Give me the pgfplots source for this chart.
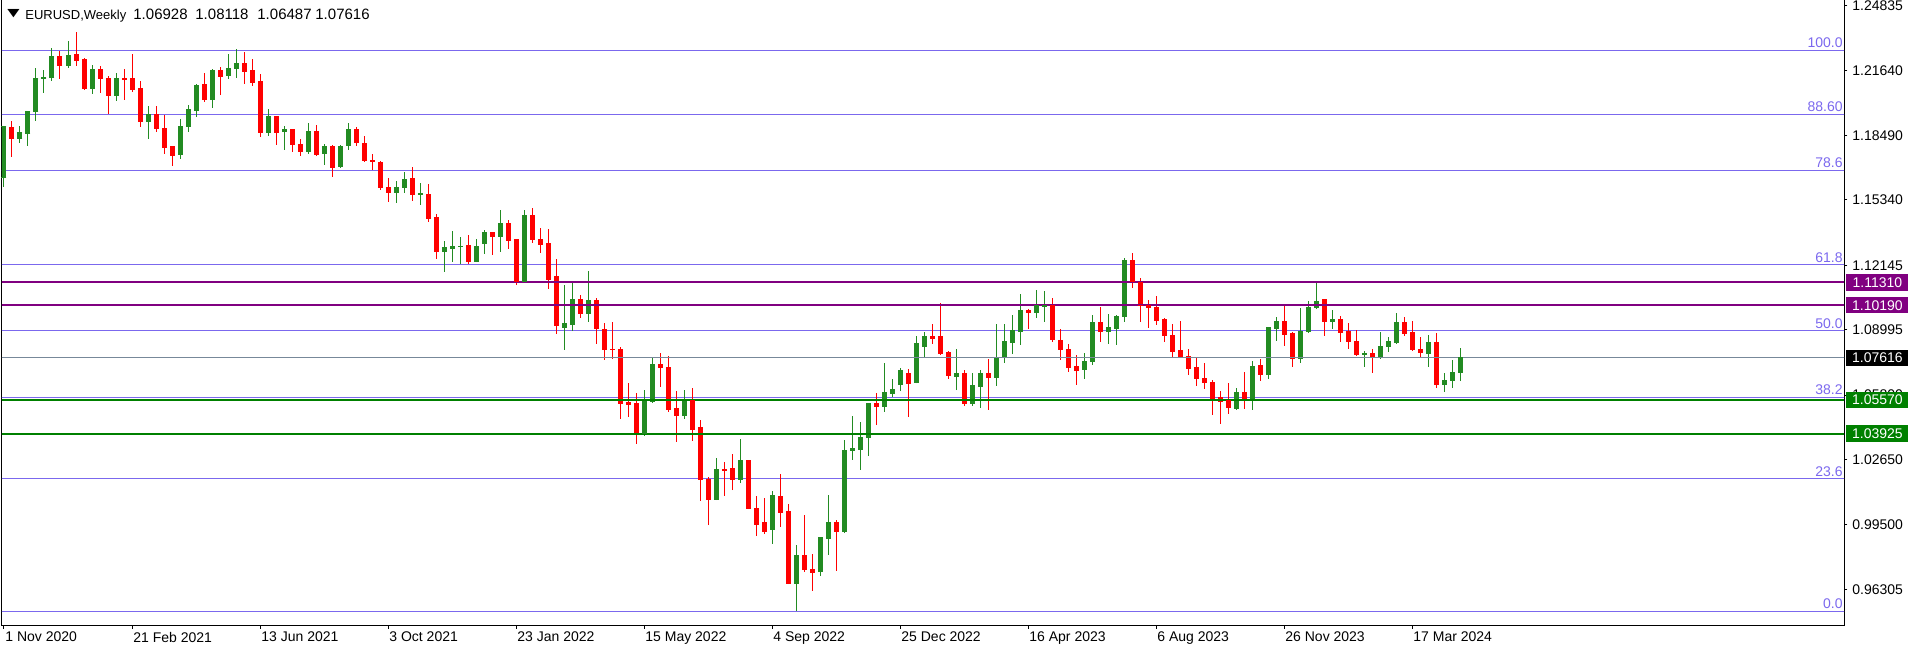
\documentclass[border=0pt]{standalone}
\usepackage{pgfplots}
\usepackage{pgfplotstable}
\pgfplotsset{compat=1.18}
\usepackage{fontspec}
\setmainfont{Liberation Sans}
\newfontfamily\dejavu{DejaVu Sans}
\definecolor{bull}{RGB}{34,139,34}
\definecolor{bear}{RGB}{255,0,0}
\definecolor{fib}{RGB}{123,104,238}
\definecolor{lvlpurple}{RGB}{128,0,128}
\definecolor{lvlgreen}{RGB}{0,128,0}
\definecolor{pricegray}{RGB}{119,136,153}

\pgfplotstableread{
i o h l c
0 1.1642 1.1894 1.1598 1.1891
1 1.1889 1.1919 1.1744 1.1832
2 1.1832 1.1894 1.1813 1.1860
3 1.1857 1.1967 1.1798 1.1967
4 1.1964 1.2177 1.1920 1.2128
5 1.2124 1.2168 1.2057 1.2133
6 1.2130 1.2275 1.2115 1.2231
7 1.2231 1.2260 1.2124 1.2189
8 1.2189 1.2309 1.2179 1.2236
9 1.2241 1.2353 1.2189 1.2213
10 1.2221 1.2226 1.2070 1.2076
11 1.2076 1.2190 1.2052 1.2168
12 1.2168 1.2187 1.2057 1.2125
13 1.2128 1.2138 1.1953 1.2042
14 1.2042 1.2153 1.2018 1.2124
15 1.2124 1.2172 1.2023 1.2120
16 1.2124 1.2246 1.2062 1.2072
17 1.2075 1.2114 1.1891 1.1915
18 1.1915 1.1992 1.1832 1.1948
19 1.1948 1.1992 1.1867 1.1881
20 1.1884 1.1948 1.1759 1.1788
21 1.1792 1.1797 1.1701 1.1749
22 1.1754 1.1928 1.1735 1.1894
23 1.1894 1.1997 1.1867 1.1977
24 1.1972 1.2101 1.1940 1.2094
25 1.2099 1.2154 1.2013 1.2021
26 1.2021 1.2172 1.1984 1.2167
27 1.2167 1.2184 1.2045 1.2135
28 1.2140 1.2246 1.2125 1.2177
29 1.2174 1.2270 1.2130 1.2197
30 1.2197 1.2255 1.2101 1.2159
31 1.2163 1.2221 1.2091 1.2106
32 1.2109 1.2148 1.1842 1.1862
33 1.1862 1.1977 1.1847 1.1938
34 1.1938 1.1941 1.1803 1.1862
35 1.1866 1.1896 1.1779 1.1876
36 1.1875 1.1879 1.1769 1.1803
37 1.1806 1.1831 1.1749 1.1769
38 1.1769 1.1909 1.1759 1.1865
39 1.1865 1.1899 1.1749 1.1753
40 1.1759 1.1806 1.1705 1.1796
41 1.1796 1.1800 1.1646 1.1691
42 1.1696 1.1801 1.1691 1.1792
43 1.1798 1.1909 1.1779 1.1879
44 1.1879 1.1888 1.1798 1.1813
45 1.1811 1.1845 1.1720 1.1725
46 1.1728 1.1757 1.1679 1.1720
47 1.1718 1.1723 1.1583 1.1593
48 1.1596 1.1640 1.1525 1.1569
49 1.1569 1.1626 1.1520 1.1596
50 1.1596 1.1670 1.1569 1.1635
51 1.1640 1.1694 1.1530 1.1559
52 1.1559 1.1616 1.1510 1.1564
53 1.1562 1.1611 1.1427 1.1442
54 1.1445 1.1465 1.1246 1.1281
55 1.1281 1.1333 1.1183 1.1299
56 1.1295 1.1382 1.1232 1.1308
57 1.1305 1.1352 1.1222 1.1308
58 1.1313 1.1362 1.1222 1.1232
59 1.1232 1.1342 1.1229 1.1308
60 1.1318 1.1386 1.1271 1.1372
61 1.1372 1.1377 1.1266 1.1354
62 1.1354 1.1484 1.1281 1.1416
63 1.1416 1.1435 1.1295 1.1334
64 1.1338 1.1342 1.1120 1.1133
65 1.1137 1.1484 1.1134 1.1455
66 1.1455 1.1494 1.1325 1.1339
67 1.1342 1.1396 1.1276 1.1315
68 1.1318 1.1391 1.1100 1.1144
69 1.1157 1.1245 1.0880 1.0919
70 1.0910 1.1120 1.0802 1.0929
71 1.0924 1.1129 1.0893 1.1045
72 1.1045 1.1069 1.0958 1.0978
73 1.0978 1.1186 1.0939 1.1040
74 1.1040 1.1054 1.0831 1.0905
75 1.0903 1.0932 1.0753 1.0802
76 1.0805 1.0937 1.0758 1.0802
77 1.0805 1.0815 1.0465 1.0539
78 1.0542 1.0639 1.0475 1.0534
79 1.0537 1.0591 1.0343 1.0397
80 1.0392 1.0607 1.0382 1.0547
81 1.0548 1.0762 1.0544 1.0732
82 1.0732 1.0786 1.0622 1.0714
83 1.0713 1.0771 1.0500 1.0509
84 1.0513 1.0600 1.0353 1.0480
85 1.0480 1.0605 1.0465 1.0547
86 1.0554 1.0615 1.0358 1.0411
87 1.0420 1.0459 1.0065 1.0169
88 1.0166 1.0182 0.9946 1.0073
89 1.0073 1.0273 1.0068 1.0215
90 1.0215 1.0254 1.0088 1.0210
91 1.0220 1.0293 1.0117 1.0169
92 1.0169 1.0366 1.0151 1.0259
93 1.0259 1.0264 1.0024 1.0029
94 1.0029 1.0088 0.9893 0.9951
95 0.9956 1.0078 0.9902 0.9912
96 0.9922 1.0112 0.9854 1.0088
97 1.0083 1.0195 0.9937 1.0005
98 1.0010 1.0049 0.9658 0.9661
99 0.9661 0.9849 0.9526 0.9795
100 0.9795 0.9995 0.9717 0.9727
101 0.9731 0.9805 0.9624 0.9712
102 0.9717 0.9885 0.9697 0.9883
103 0.9878 1.0093 0.9800 0.9956
104 0.9956 0.9971 0.9722 0.9912
105 0.9912 1.0361 0.9907 1.0312
106 1.0308 1.0478 1.0264 1.0322
107 1.0317 1.0449 1.0215 1.0371
108 1.0371 1.0542 1.0283 1.0537
109 1.0537 1.0591 1.0434 1.0527
110 1.0527 1.0737 1.0498 1.0591
111 1.0586 1.0659 1.0571 1.0610
112 1.0630 1.0713 1.0600 1.0698
113 1.0688 1.0708 1.0474 1.0635
114 1.0640 1.0869 1.0637 1.0830
115 1.0820 1.0888 1.0762 1.0864
116 1.0864 1.0928 1.0830 1.0859
117 1.0864 1.1030 1.0776 1.0781
118 1.0786 1.0796 1.0659 1.0674
119 1.0669 1.0805 1.0605 1.0688
120 1.0688 1.0703 1.0529 1.0539
121 1.0539 1.0688 1.0529 1.0625
122 1.0622 1.0703 1.0519 1.0688
123 1.0688 1.0757 1.0509 1.0665
124 1.0665 1.0927 1.0626 1.0761
125 1.0768 1.0927 1.0739 1.0840
126 1.0836 1.0971 1.0783 1.0898
127 1.0893 1.1074 1.0827 1.0991
128 1.0991 1.1001 1.0905 1.0983
129 1.0983 1.1093 1.0958 1.1017
130 1.1012 1.1089 1.0939 1.1017
131 1.1017 1.1054 1.0841 1.0851
132 1.0849 1.0903 1.0753 1.0802
133 1.0805 1.0830 1.0695 1.0714
134 1.0722 1.0776 1.0631 1.0700
135 1.0705 1.0786 1.0661 1.0742
136 1.0744 1.0971 1.0729 1.0937
137 1.0937 1.1010 1.0841 1.0893
138 1.0893 1.0976 1.0831 1.0908
139 1.0905 1.0971 1.0827 1.0962
140 1.0963 1.1250 1.0939 1.1235
141 1.1235 1.1274 1.1105 1.1137
142 1.1132 1.1150 1.0939 1.1017
143 1.1017 1.1045 1.0910 1.1007
144 1.1010 1.1064 1.0924 1.0944
145 1.0947 1.0957 1.0841 1.0870
146 1.0869 1.0927 1.0763 1.0792
147 1.0796 1.0942 1.0762 1.0768
148 1.0771 1.0805 1.0680 1.0709
149 1.0713 1.0766 1.0626 1.0661
150 1.0659 1.0737 1.0612 1.0641
151 1.0644 1.0654 1.0485 1.0563
152 1.0568 1.0600 1.0441 1.0548
153 1.0552 1.0639 1.0490 1.0519
154 1.0514 1.0615 1.0509 1.0591
155 1.0591 1.0693 1.0514 1.0563
156 1.0563 1.0747 1.0509 1.0722
157 1.0727 1.0757 1.0651 1.0680
158 1.0680 1.0913 1.0661 1.0908
159 1.0905 1.0962 1.0846 1.0942
160 1.0942 1.1020 1.0822 1.0875
161 1.0879 1.0888 1.0719 1.0758
162 1.0758 1.1006 1.0739 1.0890
163 1.0890 1.1040 1.0885 1.1010
164 1.1007 1.1129 1.1002 1.1035
165 1.1045 1.1047 1.0871 1.0939
166 1.0939 1.0996 1.0905 1.0947
167 1.0947 1.0967 1.0841 1.0885
168 1.0890 1.0932 1.0807 1.0841
169 1.0844 1.0898 1.0773 1.0778
170 1.0778 1.0796 1.0719 1.0781
171 1.0781 1.0805 1.0690 1.0768
172 1.0768 1.0890 1.0758 1.0820
173 1.0817 1.0864 1.0792 1.0840
174 1.0835 1.0981 1.0830 1.0937
175 1.0937 1.0962 1.0871 1.0880
176 1.0884 1.0942 1.0797 1.0802
177 1.0805 1.0864 1.0763 1.0788
178 1.0783 1.0874 1.0719 1.0835
179 1.0835 1.0884 1.0617 1.0631
180 1.0631 1.0688 1.0597 1.0654
181 1.0651 1.0752 1.0617 1.0693
182 1.06928 1.08118 1.06487 1.07616
}\candles

\pgfplotsset{
  candlewick/.style={forget plot, draw=none, mark=none,
    error bars/.cd, y dir=plus, y explicit, error mark=none,
    error bar style={line width=0.5pt, draw=#1}, /pgfplots/.cd},
  candlebody/.style={forget plot, draw=none, mark=none,
    error bars/.cd, y dir=plus, y explicit, error mark=none,
    error bar style={line width=2.5pt, draw=#1}, /pgfplots/.cd},
  candlecap/.style={forget plot, only marks, mark=-, mark size=1.25pt,
    mark options={line width=0.5pt, draw=#1}},
  isbull/.style={restrict expr to domain={\thisrow{c}-\thisrow{o}}{0:1}},
  isbear/.style={restrict expr to domain={\thisrow{c}-\thisrow{o}}{-1:0}},
  hline/.style={forget plot, line width=#1},
}

\begin{document}
\begin{tikzpicture}
\useasboundingbox (0,0) rectangle (958pt,-326pt);
\begin{axis}[
  at={(1pt,0pt)}, anchor=north west,
  scale only axis, width=921pt, height=312.65pt,
  xmin=-0.25, xmax=230, ymin=0.94565, ymax=1.25092,
  axis line style={line width=0.5pt, black},
  tick align=outside, major tick length=1.7pt,
  tick style={line width=0.5pt, black},
  xtick={0,16,32,48,64,80,96,112,128,144,160,176},
  xticklabels={1 Nov 2020,21 Feb 2021,13 Jun 2021,3 Oct 2021,23 Jan 2022,15 May 2022,4 Sep 2022,25 Dec 2022,16 Apr 2023,6 Aug 2023,26 Nov 2023,17 Mar 2024},
  xtick pos=bottom, ytick pos=right, yticklabel pos=right,
  ytick={0.96305,0.99500,1.02650,1.05800,1.08995,1.12145,1.15340,1.18490,1.21640,1.24835},
  yticklabels={0.96305,0.99500,1.02650,1.05800,1.08995,1.12145,1.15340,1.18490,1.21640,1.24835},
  tick label style={font=\fontsize{7}{8}\selectfont, black},
  xticklabel style={anchor=north west, inner xsep=0.5pt, inner ysep=1.5pt},
  yticklabel style={anchor=west, inner xsep=2.3pt},
]
% Fibonacci levels (background)
\addplot[hline=0.5pt, fib] coordinates {(-1,1.2263) (231,1.2263)};
\addplot[hline=0.5pt, fib] coordinates {(-1,1.19509) (231,1.19509)};
\addplot[hline=0.5pt, fib] coordinates {(-1,1.16771) (231,1.16771)};
\addplot[hline=0.5pt, fib] coordinates {(-1,1.12171) (231,1.12171)};
\addplot[hline=0.5pt, fib] coordinates {(-1,1.0894) (231,1.0894)};
\addplot[hline=0.5pt, fib] coordinates {(-1,1.05709) (231,1.05709)};
\addplot[hline=0.5pt, fib] coordinates {(-1,1.01712) (231,1.01712)};
\addplot[hline=0.5pt, fib] coordinates {(-1,0.9525) (231,0.9525)};

% candles: bearish
\addplot[isbear, candlewick=bear] table[x=i, y=l, y error expr={\thisrow{h}-\thisrow{l}}] {\candles};
\addplot[isbear, candlebody=bear] table[x=i, y expr={min(\thisrow{o},\thisrow{c})}, y error expr={abs(\thisrow{c}-\thisrow{o})}] {\candles};
\addplot[isbear, candlecap=bear] table[x=i, y=o] {\candles};
\addplot[isbear, candlecap=bear] table[x=i, y=c] {\candles};
% candles: bullish
\addplot[isbull, candlewick=bull] table[x=i, y=l, y error expr={\thisrow{h}-\thisrow{l}}] {\candles};
\addplot[isbull, candlebody=bull] table[x=i, y expr={min(\thisrow{o},\thisrow{c})}, y error expr={abs(\thisrow{c}-\thisrow{o})}] {\candles};
\addplot[isbull, candlecap=bull] table[x=i, y=o] {\candles};
\addplot[isbull, candlecap=bull] table[x=i, y=c] {\candles};

% horizontal levels
\addplot[hline=1pt, lvlpurple] coordinates {(-1,1.1131) (231,1.1131)};
\addplot[hline=1pt, lvlpurple] coordinates {(-1,1.1019) (231,1.1019)};
\addplot[hline=1pt, lvlgreen] coordinates {(-1,1.0557) (231,1.0557)};
\addplot[hline=1pt, lvlgreen] coordinates {(-1,1.03925) (231,1.03925)};
\addplot[hline=0.5pt, pricegray] coordinates {(-1,1.07616) (231,1.07616)};

\coordinate (f100) at (axis cs:230,1.2263);
\coordinate (f886) at (axis cs:230,1.19509);
\coordinate (f786) at (axis cs:230,1.16771);
\coordinate (f618) at (axis cs:230,1.12171);
\coordinate (f500) at (axis cs:230,1.0894);
\coordinate (f382) at (axis cs:230,1.05709);
\coordinate (f236) at (axis cs:230,1.01712);
\coordinate (f000) at (axis cs:230,0.9525);
\coordinate (r1) at (axis cs:230,1.1131);
\coordinate (r2) at (axis cs:230,1.1019);
\coordinate (r3) at (axis cs:230,1.07616);
\coordinate (r4) at (axis cs:230,1.0557);
\coordinate (r5) at (axis cs:230,1.03925);
\end{axis}

% title
\node[anchor=base west, inner sep=0pt, font=\dejavu\fontsize{5.5}{6}\selectfont] at (3.5pt,-8.3pt) {\scalebox{1.45}[1]{▼}};
\node[anchor=base west, inner sep=0pt, font=\fontsize{6.5}{8}\selectfont] at (12.5pt,-9.6pt) {EURUSD,Weekly};
\node[anchor=base west, inner sep=0pt, font=\fontsize{7.5}{9}\selectfont] at (66.5pt,-9.6pt) {1.06928};
\node[anchor=base west, inner sep=0pt, font=\fontsize{7.5}{9}\selectfont] at (97.5pt,-9.6pt) {1.08118};
\node[anchor=base west, inner sep=0pt, font=\fontsize{7.5}{9}\selectfont] at (128.5pt,-9.6pt) {1.06487};
\node[anchor=base west, inner sep=0pt, font=\fontsize{7.5}{9}\selectfont] at (157.5pt,-9.6pt) {1.07616};

% fibonacci labels
\begin{scope}[every node/.style={anchor=south east, inner sep=0pt, text=fib, font=\fontsize{7}{8}\selectfont}]
\node at ([xshift=-0.5pt,yshift=1pt]f100) {100.0};
\node at ([xshift=-0.5pt,yshift=1pt]f886) {88.60};
\node at ([xshift=-0.5pt,yshift=1pt]f786) {78.6};
\node at ([xshift=-0.5pt,yshift=1pt]f618) {61.8};
\node at ([xshift=-0.5pt,yshift=1pt]f500) {50.0};
\node at ([xshift=-0.5pt,yshift=1pt]f382) {38.2};
\node at ([xshift=-0.5pt,yshift=1pt]f236) {23.6};
\node at ([xshift=-0.5pt,yshift=1pt]f000) {0.0};
\end{scope}

% price boxes
\begin{scope}[every node/.style={anchor=west, inner sep=0pt, minimum width=31pt, minimum height=8.2pt, text=white, font=\fontsize{7}{8}\selectfont}]
\node[fill=lvlpurple] at ([xshift=1pt]r1) {1.11310};
\node[fill=lvlpurple] at ([xshift=1pt]r2) {1.10190};
\node[fill=black] at ([xshift=1pt]r3) {1.07616};
\node[fill=lvlgreen] at ([xshift=1pt]r4) {1.05570};
\node[fill=lvlgreen] at ([xshift=1pt]r5) {1.03925};
\end{scope}
\end{tikzpicture}
\end{document}
